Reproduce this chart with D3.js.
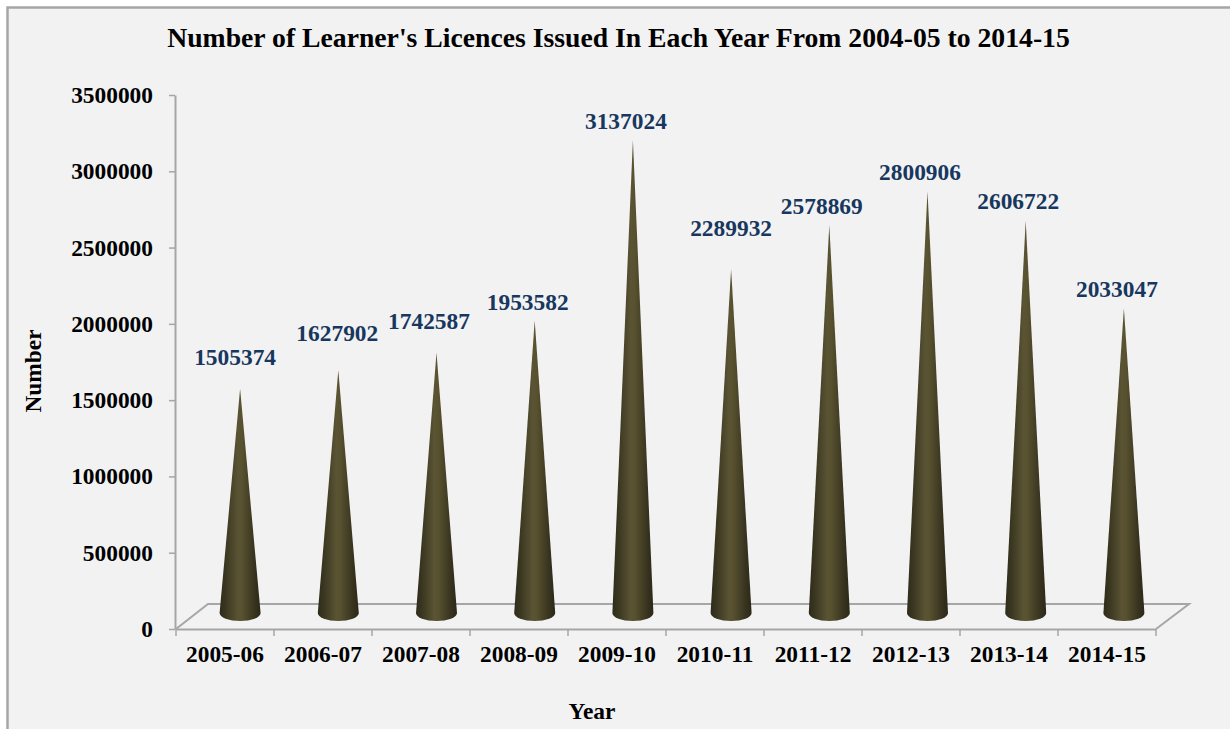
<!DOCTYPE html>
<html>
<head>
<meta charset="utf-8">
<script src="https://cdn.jsdelivr.net/npm/d3@7"></script>
<style>
  html, body { margin: 0; padding: 0; background: #fff; }
  svg { display: block; }
  text { font-family: "Liberation Serif", serif; font-weight: bold; }
</style>
</head>
<body>
<svg id="main-svg" width="1230" height="729"></svg>
<script>
const years = ["2005-06", "2006-07", "2007-08", "2008-09", "2009-10", "2010-11", "2011-12", "2012-13", "2013-14", "2014-15"];
const licences = [1505374, 1627902, 1742587, 1953582, 3137024, 2289932, 2578869, 2800906, 2606722, 2033047];
const yTicks = [0, 500000, 1000000, 1500000, 2000000, 2500000, 3000000, 3500000];

// labels were placed by hand in the original, so each one has its own nudge
const labelDx = [-5, -1, -7.5, -7, -7, 0, -7.5, -7.5, -7.5, -7];
const labelDy = [-24, -29, -24, -10, -11, -33, -11, -11, -12, -11];

const AXIS_COLOR = "#a6a6a6";
const DEPTH_X = 32;
const DEPTH_Y = -25;
const TICK_FONT = "23.4px";

const svg = d3.select("#main-svg");

const x = d3.scaleBand().domain(years).range([176, 1156]);
const y = d3.scaleLinear().domain([0, 3500000]).range([629, 95]);
// cones stand mid way back on the floor, so they get their own slightly wider band
const xCone = d3.scaleBand().domain(years).range([191, 1173]);

// chart background
svg.append("rect")
  .attr("x", 7.5).attr("y", 7.5)
  .attr("width", 1240).attr("height", 740)
  .attr("fill", "#f2f2f2")
  .attr("stroke", AXIS_COLOR)
  .attr("stroke-width", 2.5);

// cone shading
const defs = svg.append("defs");
const grad = defs.append("linearGradient").attr("id", "coneFill");
[[0, "#2e2b1b"], [0.12, "#37341f"], [0.45, "#5a5434"], [0.55, "#57512f"], [0.85, "#37331f"], [1, "#2b2818"]]
  .forEach(s => grad.append("stop").attr("offset", s[0]).attr("stop-color", s[1]));

// floor
const floor = d3.path();
floor.moveTo(x.range()[0], y(0));
floor.lineTo(x.range()[0] + DEPTH_X, y(0) + DEPTH_Y);
floor.lineTo(x.range()[1] + DEPTH_X + 1, y(0) + DEPTH_Y);
floor.lineTo(x.range()[1], y(0));
svg.append("path")
  .attr("d", floor.toString())
  .attr("fill", "none")
  .attr("stroke", AXIS_COLOR)
  .attr("stroke-width", 2);

// axes
const yAxis = d3.axisLeft(y).tickValues(yTicks).tickFormat(d3.format("d")).tickSizeInner(6).tickSizeOuter(0);
const yG = svg.append("g").attr("transform", "translate(175,0)").call(yAxis);
yG.select(".domain").attr("stroke", AXIS_COLOR).attr("stroke-width", 2);
yG.selectAll(".tick line").attr("stroke", AXIS_COLOR).attr("stroke-width", 1.5);
yG.selectAll(".tick text")
  .attr("x", -22)
  .attr("fill", "#000")
  .style("font-size", TICK_FONT)
  .style("font-family", '"Liberation Serif", serif');

const xAxis = d3.axisBottom(x).tickSize(0).tickPadding(16);
const xG = svg.append("g").attr("transform", `translate(0,${y(0)})`).call(xAxis);
xG.select(".domain").attr("stroke", AXIS_COLOR).attr("stroke-width", 2);
xG.selectAll(".tick text")
  .attr("fill", "#000")
  .style("font-size", TICK_FONT)
  .style("font-family", '"Liberation Serif", serif');

// x ticks sit on band edges
svg.append("g").selectAll("line")
  .data(years.map(d => x(d)).concat(x.range()[1]))
  .join("line")
  .attr("x1", d => d).attr("x2", d => d)
  .attr("y1", y(0)).attr("y2", y(0) + 7)
  .attr("stroke", AXIS_COLOR)
  .attr("stroke-width", 1.5);

// cones
const CONE_RX = 20.5;
const CONE_RY = 8;
const BASE_CY = 613;
const APEX_SHIFT = -10.5;
const coneX = i => xCone(years[i]) + xCone.bandwidth() / 2;

svg.append("g").selectAll("path")
  .data(licences)
  .join("path")
  .attr("fill", "url(#coneFill)")
  .attr("d", (d, i) => {
    const cx = coneX(i);
    return `M${cx},${y(d) + APEX_SHIFT}L${cx + CONE_RX},${BASE_CY}` +
      `A${CONE_RX},${CONE_RY} 0 0 1 ${cx - CONE_RX},${BASE_CY}Z`;
  });

// value labels
svg.append("g").selectAll("text")
  .data(licences)
  .join("text")
  .attr("x", (d, i) => coneX(i) + labelDx[i])
  .attr("y", (d, i) => y(d) + APEX_SHIFT + labelDy[i])
  .attr("text-anchor", "middle")
  .attr("fill", "#17375e")
  .style("font-size", TICK_FONT)
  .text(d => d);

// titles
svg.append("text")
  .attr("x", 618.5).attr("y", 47)
  .attr("text-anchor", "middle")
  .attr("fill", "#000")
  .style("font-size", "27.7px")
  .text("Number of Learner's Licences Issued In Each Year From 2004-05 to 2014-15");

svg.append("text")
  .attr("x", 592).attr("y", 719)
  .attr("text-anchor", "middle")
  .attr("fill", "#000")
  .style("font-size", TICK_FONT)
  .text("Year");

svg.append("text")
  .attr("transform", "translate(41,371) rotate(-90)")
  .attr("text-anchor", "middle")
  .attr("fill", "#000")
  .style("font-size", TICK_FONT)
  .text("Number");
</script>
</body>
</html>
